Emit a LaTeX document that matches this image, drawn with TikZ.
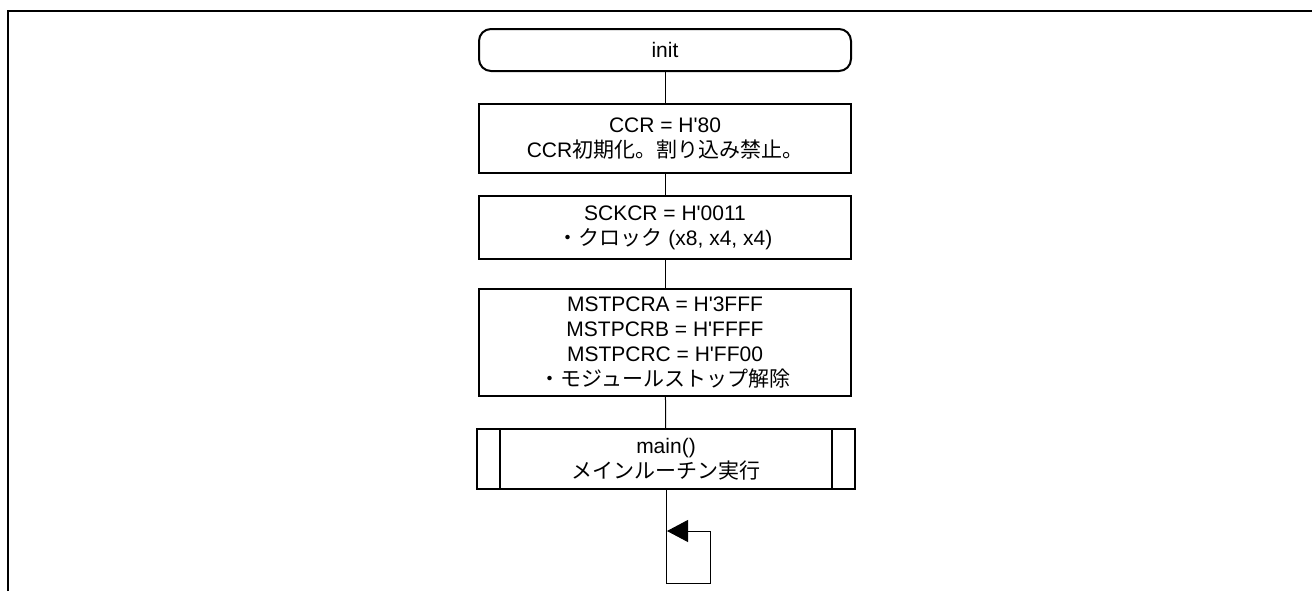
\documentclass[tikz,border=0pt]{standalone}
\usepackage{fontspec}
\setmainfont{Liberation Sans}
\newfontfamily\cjk{Noto Sans CJK JP}
\usetikzlibrary{arrows.meta}
\newcommand{\q}{\textquotesingle}

\begin{document}
\begin{tikzpicture}[x=0.5pt, y=-0.5pt,
    every node/.style={font=\fontsize{10.5}{12.5}\selectfont},
    proc/.style={draw, line width=1pt, minimum width=186pt, align=center, inner sep=0pt},
    term/.style={proc, rounded corners=6pt, minimum height=21pt},
    line/.style={line width=0.5pt}]

    \useasboundingbox (0,0) rectangle (1312,591);

    % Frame
    \draw[line width=1pt] (8,591) -- (8,11) -- (1312,11);

    % Flow boxes
    \node[term] (init) at (665,50) {init};
    \node[proc, minimum height=34.5pt] (ccr) at (665,138.5)
        {CCR = H\q80\\CCR{\cjk 初期化。割り込み禁止。}};
    \node[proc, minimum height=31.5pt] (sckcr) at (665,227.5)
        {SCKCR = H\q0011\\{\cjk ・クロック} (x8, x4, x4)};
    \node[proc, minimum height=53.5pt] (mstp) at (665,342.5)
        {MSTPCRA = H\q3FFF\\MSTPCRB = H\q FFFF\\MSTPCRC = H\q FF00\\{\cjk ・モジュールストップ解除}};
    \node[proc, minimum width=189pt, minimum height=30pt] (main) at (666,459)
        {main()\\{\cjk メインルーチン実行}};
    \draw[line width=1pt] ([xshift=12pt]main.north west) -- ([xshift=12pt]main.south west);
    \draw[line width=1pt] ([xshift=-12pt]main.north east) -- ([xshift=-12pt]main.south east);

    % Connectors
    \draw[line] (init) -- (ccr);
    \draw[line] (ccr) -- (sckcr);
    \draw[line] (sckcr) -- (mstp);
    \draw[line] (mstp) -- (main);

    % Endless loop
    \coordinate (loopbl) at (666,583);
    \coordinate (loopbr) at (710,583);
    \coordinate (looptr) at (710,531);
    \coordinate (looptip) at (667,531);
    \draw[line, -{Triangle[length=10.5pt,width=11pt]}] (main.south) -- (loopbl) -- (loopbr) -- (looptr) -- (looptip);

\end{tikzpicture}
\end{document}
